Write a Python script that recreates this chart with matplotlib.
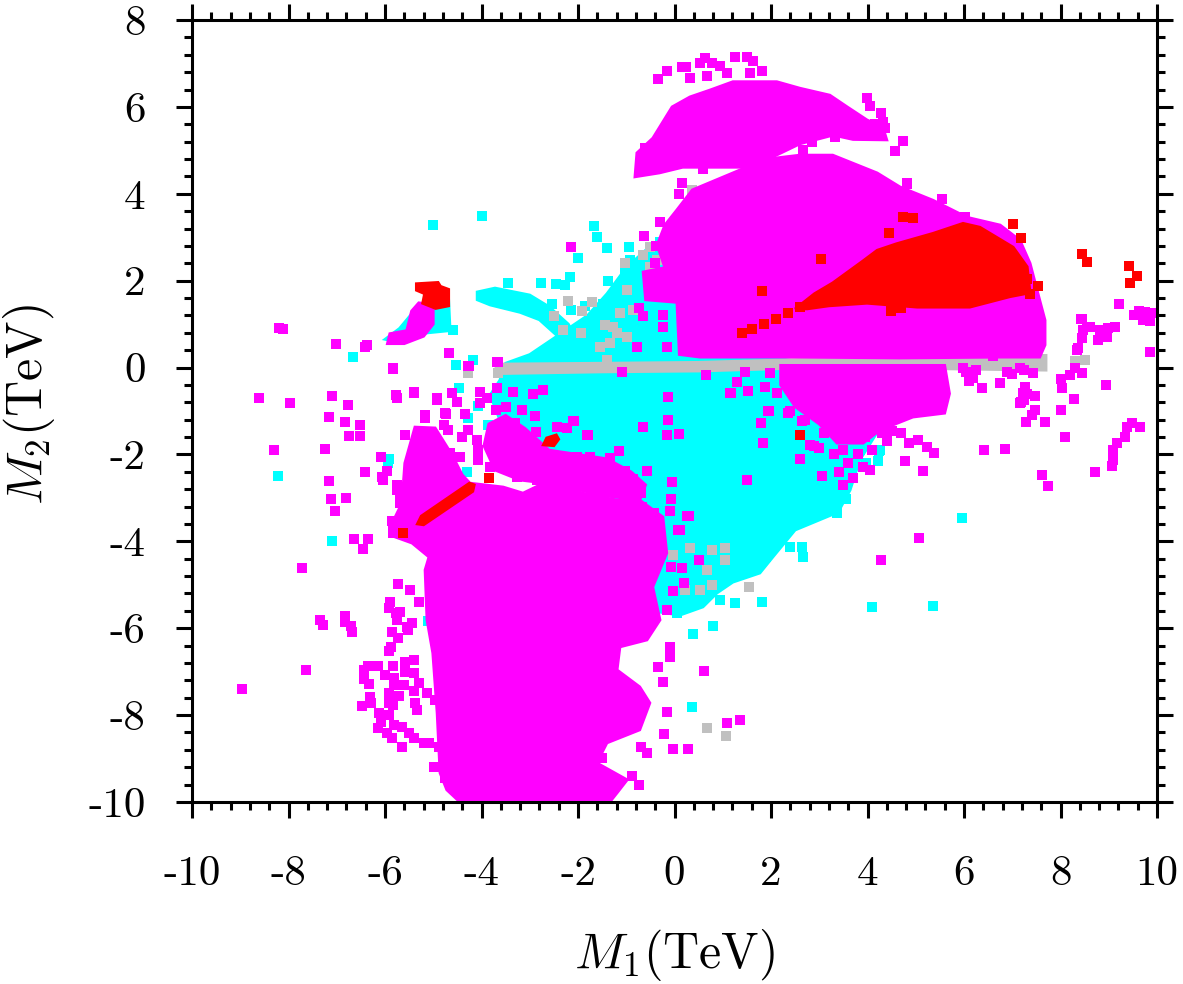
import numpy as np
import matplotlib
matplotlib.use('Agg')
import matplotlib.pyplot as plt
from matplotlib.ticker import MultipleLocator

plt.rcParams['mathtext.fontset'] = 'cm'
plt.rcParams['axes.unicode_minus'] = False

# axis ticks
x_ticks = [-10, -8, -6, -4, -2, 0, 2, 4, 6, 8, 10]
x_tick_labels = ['-10', '-8', '-6', '-4', '-2', '0', '2', '4', '6', '8', '10']
y_ticks = [-10, -8, -6, -4, -2, 0, 2, 4, 6, 8]
y_tick_labels = ['-10', '-8', '-6', '-4', '-2', '0', '2', '4', '6', '8']

# ---- dense regions (outlines of the point clouds, in TeV) ----
cyan_main = [(-3.62, -0.29), (-3.5, 0.1), (-3.0, 0.3), (-2.6, 0.6), (-2.2, 0.9), (-1.8, 1.2),
             (-1.4, 1.7), (-1.0, 2.3), (-0.6, 2.7), (0.3, 2.8), (0.53, 1.56), (1.77, 0.29),
             (2.6, 0.13), (4.26, -0.4), (4.36, -1.21), (3.84, -2.13), (3.64, -2.82), (3.39, -3.33),
             (2.5, -3.74), (2.04, -4.36), (1.77, -4.73), (1.21, -4.94), (0.88, -5.19), (0.59, -5.51),
             (0.11, -5.7), (-0.3, -5.63), (-0.72, -3.51), (-1.96, -2.36), (-2.79, -1.67),
             (-3.62, -1.21), (-3.82, -0.63)]
cyan_band = [(-4.09, 1.74), (-3.72, 1.83), (-3.0, 1.67), (-2.6, 1.4), (-2.2, 1.0), (-2.0, 0.6),
             (-2.3, 0.6), (-2.8, 1.1), (-3.2, 1.27), (-3.82, 1.44), (-4.09, 1.56)]
cyan_left = [(-6.0, 0.65), (-5.7, 0.9), (-5.4, 1.3), (-5.0, 1.5), (-4.68, 1.55), (-4.65, 0.85),
             (-5.1, 0.8), (-5.5, 0.75), (-5.8, 0.6)]

gray_band = [(-3.7, -0.14), (-3.7, 0.08), (-1.5, 0.1), (0.5, 0.12), (3.0, 0.2), (5.0, 0.26),
             (7.7, 0.28), (7.7, -0.06), (5.0, -0.02), (3.0, 0.0), (0.5, -0.08), (-1.5, -0.1)]

mag_top = [(-0.82, 4.39), (-0.78, 4.94), (-0.45, 5.28), (-0.05, 6.0), (0.32, 6.23), (0.74, 6.39),
           (1.21, 6.58), (2.12, 6.58), (2.6, 6.43), (3.22, 6.27), (3.58, 6.0), (3.99, 5.7),
           (4.32, 5.53), (4.4, 5.24), (3.7, 5.25), (3.29, 5.35), (2.6, 5.15), (2.04, 4.85),
           (1.71, 4.65), (1.36, 4.61), (0.88, 4.61), (0.17, 4.61), (-0.31, 4.48)]
mag_mid = [(0.05, 3.63), (0.37, 4.09), (1.36, 4.55), (1.77, 4.78), (2.6, 4.89), (3.28, 4.89),
           (4.2, 4.48), (4.67, 4.16), (5.36, 3.85), (6.06, 3.46), (6.75, 3.28), (7.16, 2.93),
           (7.37, 2.4), (7.57, 1.55), (7.68, 1.09), (7.68, 0.52), (7.57, 0.24), (6.75, 0.24),
           (4.67, 0.22), (2.6, 0.24), (0.53, 0.24), (0.1, 0.3), (0.05, 1.5), (-0.6, 1.56),
           (-0.65, 2.2), (-0.2, 2.3), (-0.36, 2.82), (-0.2, 3.28)]
mag_below = [(2.2, 0.05), (5.6, 0.05), (5.7, -0.6), (5.6, -1.05), (4.94, -1.14), (4.26, -1.44),
             (3.91, -1.74), (3.37, -1.74), (3.0, -1.3), (2.5, -0.9), (2.2, -0.4)]
mag_mix = [(-3.85, -1.3), (-3.5, -1.1), (-3.1, -1.4), (-2.6, -1.9), (-2.0, -2.0), (-1.4, -2.1),
           (-0.9, -2.4), (-0.6, -2.7), (-0.72, -3.05), (-1.54, -2.94), (-2.37, -2.7),
           (-3.2, -2.59), (-3.72, -2.36), (-3.95, -1.8)]
mag_low = [(-5.38, -1.37), (-4.96, -1.39), (-4.61, -2.01), (-4.4, -2.47), (-4.24, -2.66),
           (-3.55, -2.75), (-3.14, -2.89), (-2.58, -2.59), (-1.9, -2.89), (-1.19, -3.05),
           (-0.72, -3.05), (-0.24, -3.44), (-0.16, -4.27), (-0.45, -5.05), (-0.3, -5.81),
           (-0.57, -6.27), (-1.13, -6.43), (-1.19, -6.96), (-0.72, -7.35), (-0.51, -7.72),
           (-0.72, -8.34), (-1.4, -8.64), (-1.61, -9.1), (-0.98, -9.49), (-1.19, -9.79),
           (-1.34, -10.0), (-4.45, -10.0), (-4.72, -9.72), (-4.86, -9.33), (-4.92, -7.95),
           (-5.01, -6.57), (-5.13, -5.81), (-5.17, -4.66), (-5.09, -4.36), (-5.44, -4.04),
           (-5.79, -3.9), (-5.85, -3.58), (-5.65, -3.12), (-5.59, -2.2)]
mag_left = [(-5.95, 0.55), (-5.9, 0.78), (-5.55, 0.85), (-5.45, 1.3), (-5.3, 1.49), (-5.0, 1.45),
            (-5.0, 1.0), (-5.2, 0.72), (-5.6, 0.55)]

red_main = [(2.5, 1.35), (2.9, 1.7), (3.28, 1.95), (3.9, 2.45), (4.2, 2.7), (4.6, 2.85),
            (5.36, 3.09), (5.98, 3.32), (6.33, 3.23), (7.02, 2.77), (7.31, 2.32), (7.37, 1.72),
            (6.95, 1.63), (6.12, 1.39), (5.03, 1.39), (3.99, 1.48), (3.2, 1.42), (2.75, 1.35)]
red_left = [(-5.35, 1.93), (-4.9, 1.96), (-4.85, 1.87), (-4.68, 1.8), (-4.68, 1.42), (-4.95, 1.36),
            (-5.22, 1.48), (-5.18, 1.7), (-5.35, 1.78)]
red_diag = [(-5.33, -3.6), (-5.25, -3.42), (-4.25, -2.66), (-4.15, -2.7), (-4.18, -2.85),
            (-5.2, -3.62)]
red_small = [(-2.72, -1.78), (-2.65, -1.62), (-2.45, -1.55), (-2.4, -1.65), (-2.5, -1.8)]

# ---- isolated points (TeV) ----
cyan_pts = [(-3.99, 3.49), (-5.0, 3.28), (-1.67, 3.26), (-1.61, 3.01), (-1.4, 2.75), (-2.0, 2.52),
            (-2.17, 2.08), (-2.77, 1.95), (-2.46, 1.92), (-2.27, 1.9), (-3.45, 1.95), (-2.54, 1.46),
            (-2.15, 1.32), (-1.86, 1.41), (-1.48, 1.46), (-0.94, 2.77), (-0.92, 2.48), (-1.03, 2.22),
            (-1.38, 1.99), (-1.15, 1.81), (-4.59, 0.87), (-6.66, 0.24), (-4.53, 0.06), (-4.18, 0.17),
            (-4.47, -0.47), (-4.28, -1.16), (-5.94, -2.2), (-4.3, -2.4), (-3.87, -1.32),
            (-4.07, -0.88), (-8.22, -2.5), (-7.1, -3.99), (-5.92, -2.1), (-5.11, -5.83),
            (4.1, -5.51), (5.36, -5.49), (5.96, -3.46), (0.36, -7.81), (0.8, -5.95), (0.38, -6.13),
            (1.81, -5.4), (1.25, -5.42), (0.94, -5.35), (0.53, -5.3), (0.05, -5.65), (0.34, -5.4),
            (3.84, -1.9), (4.24, -1.92), (3.97, -2.2), (4.22, -2.15), (3.64, -2.36), (3.57, -2.63),
            (3.55, -3.03), (3.37, -3.35), (2.66, -4.36), (2.39, -4.13), (2.64, -4.13), (1.9, -4.36),
            (-0.3, 2.9), (0.0, 3.0), (4.26, -1.28), (4.26, -1.9)]

gray_pts = [(-2.21, 1.53), (-2.5, 1.18), (-1.92, 1.3), (-1.71, 1.51), (-2.31, 0.87), (-1.94, 0.8),
            (-1.44, 0.98), (-1.19, 0.8), (-0.98, 0.71), (-1.34, 0.57), (-1.54, 0.47), (-0.65, 2.59),
            (-0.51, 2.32), (-0.24, 2.48), (0.47, 2.63), (0.07, 1.63), (-0.05, 2.06), (-0.98, 1.78),
            (-0.86, 1.32), (-3.66, -0.13), (-4.28, -0.13), (0.53, 2.43), (-0.2, 2.7), (0.32, 2.7),
            (0.37, 4.09), (-0.51, 2.77), (-0.36, 2.48), (-1.03, 2.4), (0.05, 2.08), (-1.27, 0.93),
            (-1.13, 1.25), (-1.4, 0.17), (-0.72, 0.01), (-0.03, -4.31), (0.32, -4.15), (0.78, -4.2),
            (1.05, -4.15), (1.05, -4.43), (0.67, -4.66), (0.53, -5.12), (0.22, -5.12), (0.78, -5.0),
            (1.55, -5.05), (0.67, -8.3), (1.07, -8.48), (8.3, 0.15), (8.5, 0.18)]

mag_pts = [(-0.16, 6.83), (-0.34, 6.64), (0.16, 6.92), (0.24, 6.92), (0.32, 6.67), (0.53, 7.01),
           (0.63, 7.13), (0.78, 7.01), (0.94, 6.94), (1.09, 6.78), (0.67, 6.71), (1.25, 7.15),
           (1.5, 7.15), (1.63, 7.06), (1.56, 6.78), (1.81, 6.83),
           (3.99, 6.2), (4.05, 6.02), (4.28, 5.86), (4.32, 5.65), (4.36, 5.51), (4.16, 5.6),
           (4.74, 5.21), (4.57, 4.98), (4.82, 4.25), (3.91, 5.58), (3.33, 5.31), (2.85, 5.19),
           (2.66, 5.0), (0.16, 4.25), (0.09, 3.99), (0.59, 4.57), (-0.61, 5.06), (-0.24, 5.35),
           (5.54, 3.88), (6.02, 3.46), (4.82, 4.22),
           (8.43, 1.12), (8.55, 0.93), (6.6, 0.27), (9.21, 1.46), (8.45, 1.12), (8.34, 0.4),
           (8.3, 0.0), (8.44, -0.12), (9.85, 0.36),
           (8.47, 0.87), (8.61, 0.93), (8.82, 0.87), (8.98, 0.91), (9.13, 0.93), (8.45, 0.68),
           (8.37, 0.45), (8.78, 0.63), (8.96, 0.7),
           (9.52, 1.2), (9.62, 1.3), (9.75, 1.28), (9.88, 1.25), (9.7, 1.1), (9.85, 1.08),
           (5.98, 0.0), (6.19, -0.24), (6.37, -0.47), (6.75, -0.36), (6.9, -0.1), (7.16, 0.0),
           (7.43, -0.12), (7.27, -0.44), (7.22, -0.59), (7.47, -0.65), (7.18, -0.79), (7.47, -0.98),
           (7.41, -1.09), (7.28, -1.25), (7.68, -1.25), (8.01, -0.27), (8.2, -0.17), (8.03, -0.47),
           (8.28, -0.72), (8.01, -0.98), (8.95, -0.4), (8.09, -1.6), (6.85, -1.88), (6.41, -1.9),
           (5.54, -0.19), (4.77, -2.15), (5.15, -2.38), (4.86, -1.74), (5.05, -1.67), (5.23, -1.82),
           (5.38, -1.97), (7.62, -2.47), (7.74, -2.73), (8.71, -2.4), (9.07, -2.27), (9.09, -2.13),
           (9.09, -1.9), (9.17, -1.74), (9.34, -1.6), (9.38, -1.37), (9.48, -1.28), (9.65, -1.37),
           (7.16, -0.82), (5.07, -3.92), (4.28, -4.43),
           (6.05, -0.1), (6.25, -0.05), (6.1, -0.3), (7.0, -0.15), (7.25, -0.05), (7.3, -0.6),
           (7.25, -0.75),
           (4.3, -1.5), (4.5, -1.45), (4.7, -1.5), (4.4, -1.7), (4.1, -1.9), (3.95, -1.6),
           (3.5, -1.9), (3.8, -2.0), (3.6, -2.2), (3.4, -2.4), (3.9, -2.3), (3.7, -2.55),
           (4.05, -2.35), (3.5, -2.7),
           (2.55, -0.6), (2.8, -0.8), (3.0, -1.0), (2.7, -1.2), (3.1, -1.5), (2.9, -1.8),
           (3.3, -2.0), (2.6, -2.1), (2.4, -1.0),
           (0.61, -6.99), (-0.09, -6.43), (-0.09, -6.66), (-0.34, -6.89), (-0.24, -7.24),
           (-0.16, -7.93), (1.09, -8.18), (1.36, -8.12), (-0.22, -8.44), (-0.04, -8.78),
           (0.28, -8.78), (-0.73, -9.61), (-0.88, -9.4), (-0.57, -8.87), (-0.69, -8.74),
           (-1.5, -8.99),
           (0.5, -4.43), (-0.08, -4.58), (0.16, -4.61), (0.2, -4.96), (-0.03, -5.14), (-0.16, -5.58),
           (0.07, -3.74), (0.26, -3.42), (-0.14, -1.21), (-0.16, -1.55), (0.09, -1.53),
           (1.5, -2.59), (1.83, -1.74), (1.79, -1.28), (1.96, -1.0), (2.35, -1.05), (2.64, -1.23),
           (2.81, -1.78), (3.0, -1.85), (3.06, -2.5), (-0.69, -2.89), (-0.57, -2.38),
           (-1.15, -1.92), (-1.79, -1.55), (-2.1, -1.23), (-2.23, -1.39),
           (-1.09, -0.1), (0.65, -0.17), (1.46, -0.1), (1.29, -0.33), (1.15, -0.59), (1.52, -0.54),
           (1.88, -0.45), (2.38, -0.31), (1.98, -0.13), (2.12, -0.59), (2.5, -0.61), (2.35, -1.05),
           (1.94, -1.0), (-0.14, -0.68), (-0.05, -2.63), (-0.07, -3.03), (-0.09, -3.3),
           (0.11, -3.74), (0.3, -3.42), (-0.67, -3.21), (-0.42, -3.35), (-1.03, -2.38),
           (-0.86, -2.56), (-1.81, -1.55), (-2.08, -1.23), (-2.44, -1.37), (-2.87, -1.48),
           (-2.89, -1.12), (-2.73, -0.52), (-2.93, -0.61), (-3.35, -0.56), (-3.68, -0.47),
           (-3.89, -0.7), (-3.7, -0.98), (-3.49, -0.91), (-3.16, -0.98), (-3.31, -1.28),
           (-3.47, -1.51), (-3.68, -1.51), (-3.14, -1.83), (-2.54, -2.13), (-2.02, -2.06),
           (-1.75, -2.06), (-1.54, -2.29), (-1.34, -2.08), (-1.9, -2.43), (-2.31, -2.29),
           (-2.73, -2.13), (-2.85, -2.59), (-3.26, -2.52), (-3.55, -2.06), (-0.86, -3.05),
           (-0.65, -1.37), (1.17, -0.58),
           (-2.15, 2.77), (-0.63, 3.03), (-0.38, 2.8), (-0.3, 3.35), (-0.4, 2.41), (-0.2, 1.99),
           (-0.74, 1.37), (-0.65, 1.18), (-0.24, 1.21), (-0.24, 0.93), (-0.78, 0.47),
           (-0.16, 0.47), (0.42, 0.45), (0.53, 0.36), (-4.26, 0.04), (-3.66, 0.13),
           (-8.2, 0.91), (-8.11, 0.88), (-7.02, 0.54), (-6.37, 0.52), (-5.83, 0.0), (-8.61, -0.7),
           (-7.97, -0.82), (-7.1, -0.65), (-6.77, -0.86), (-7.16, -1.14), (-6.83, -1.25),
           (-6.52, -1.32), (-6.75, -1.57), (-6.52, -1.57), (-5.77, -0.63), (-5.4, -0.56),
           (-4.92, -0.7), (-5.17, -1.09), (-5.59, -1.55), (-4.76, -1.04), (-8.3, -1.9),
           (-7.24, -1.88), (-6.08, -2.06), (-6.41, -2.4), (-5.96, -2.38), (-6.06, -2.52),
           (-5.75, -2.7), (-7.16, -2.61), (-7.12, -3.03), (-6.81, -3.0), (-7.04, -3.3),
           (-5.69, -3.03), (-5.85, -3.53), (-5.83, -3.72), (-6.64, -3.95), (-6.35, -3.95),
           (-6.46, -4.18), (-7.72, -4.61), (-5.73, -4.98), (-5.48, -5.12), (-5.9, -5.4),
           (-5.3, -5.4), (-5.77, -5.65), (-5.69, -5.63), (-6.83, -5.72), (-7.35, -5.81),
           (-7.28, -5.93), (-6.7, -5.95), (-5.54, -5.97), (-5.44, -5.88), (-5.85, -6.09),
           (-5.73, -6.23), (-5.88, -6.43), (-5.92, -6.52), (-7.64, -6.96), (-8.96, -7.4),
           (-6.83, -5.86), (-6.68, -6.09), (-5.92, -5.54), (-5.75, -5.81), (-5.52, -6.04),
           (-6.35, -6.87), (-6.44, -6.96), (-6.15, -6.87), (-5.83, -6.87), (-6.0, -7.08),
           (-5.81, -7.15), (-5.59, -6.78), (-5.4, -6.73), (-5.59, -7.01), (-5.4, -7.03),
           (-5.3, -7.26), (-5.61, -7.31), (-6.44, -7.17), (-6.33, -7.29), (-5.81, -7.31),
           (-5.92, -7.49), (-5.71, -7.56), (-5.4, -7.45), (-5.13, -7.49), (-6.31, -7.58),
           (-6.48, -7.79), (-6.29, -7.72), (-5.92, -7.72), (-5.83, -7.77), (-5.38, -7.72),
           (-5.34, -7.88), (-4.96, -7.65), (-6.12, -7.95), (-5.92, -8.0), (-6.08, -8.16),
           (-6.15, -8.3), (-5.81, -8.23), (-5.65, -8.28), (-5.96, -8.42), (-5.85, -8.53),
           (-5.5, -8.42), (-5.4, -8.53), (-5.65, -8.74), (-5.19, -8.64), (-5.09, -8.64),
           (-4.88, -8.74), (-4.98, -9.19), (-4.76, -9.22), (-4.76, -9.45),
           (-4.78, -1.32), (-4.88, -1.9),
           (-6.41, 0.47), (-5.83, -0.03), (-4.67, 0.33), (-4.28, 0.04), (-5.4, -0.59),
           (-5.75, -0.7), (-4.92, -0.75), (-4.61, -0.59), (-4.51, -0.79), (-4.34, -1.07),
           (-4.74, -1.07), (-5.17, -1.16), (-4.69, -1.44), (-4.4, -1.6), (-4.28, -1.44),
           (-4.03, -0.56), (-3.68, 0.13), (-4.03, -0.82), (-4.09, -1.67), (-4.07, -1.9),
           (-4.65, -1.97), (-4.45, -2.06), (-4.07, -2.13), (-3.82, -2.29), (-3.55, -2.2),
           (-4.3, -2.75), (-6.04, -2.59), (-5.75, -2.82), (-5.69, -3.12), (-5.83, -3.81)]

red_pts = [(1.4, 0.8), (1.6, 0.88), (1.85, 1.0), (2.1, 1.12), (2.35, 1.26), (2.6, 1.4),
           (8.45, 2.61), (8.55, 2.43), (9.42, 2.34), (9.58, 2.11), (9.44, 1.95), (7.31, 2.04),
           (7.53, 1.88), (7.37, 1.69), (4.49, 1.3), (4.7, 1.37), (2.6, -1.55), (4.74, 3.46),
           (4.94, 3.44), (7.02, 3.3), (7.18, 2.98), (4.45, 3.09), (3.04, 2.5), (1.81, 1.76),
           (-5.63, -3.81), (-3.84, -2.54)]

CYAN = '#00ffff'
GRAY = '#c0c0c0'
MAGENTA = '#ff00ff'
RED = '#ff0000'

fig = plt.figure(figsize=(11.83, 9.84), dpi=100)
ax = fig.add_axes([192 / 1183, 1 - 802 / 984, 965 / 1183, 782 / 984])


def blob(poly, color, z):
    xs, ys = zip(*poly)
    ax.fill(xs, ys, color=color, lw=2, zorder=z)


def dots(pts, color, z):
    xs, ys = zip(*pts)
    ax.scatter(xs, ys, s=50, marker='s', c=color, linewidths=0, zorder=z)


for p in [cyan_main, cyan_band, cyan_left]:
    blob(p, CYAN, 1)
dots(cyan_pts, CYAN, 1.5)

blob(gray_band, GRAY, 2)
dots(gray_pts, GRAY, 2.5)

for p in [mag_top, mag_mid, mag_below, mag_mix, mag_low, mag_left]:
    blob(p, MAGENTA, 3)
dots(mag_pts, MAGENTA, 3.5)

for p in [red_main, red_left, red_diag, red_small]:
    blob(p, RED, 4)
dots(red_pts, RED, 4.5)

ax.set_xlim(-10, 10)
ax.set_ylim(-10, 8)
ax.set_xticks(x_ticks)
ax.set_xticklabels(x_tick_labels, fontfamily='cmr10')
ax.set_yticks(y_ticks)
ax.set_yticklabels(y_tick_labels, fontfamily='cmr10')
ax.xaxis.set_minor_locator(MultipleLocator(0.4))
ax.yaxis.set_minor_locator(MultipleLocator(0.4))
ax.tick_params(which='both', direction='out', top=True, right=True, width=2.2, labelsize=31)
ax.tick_params(which='major', length=11.5)
ax.tick_params(which='minor', length=5.8)
ax.tick_params(axis='x', pad=27)
ax.tick_params(axis='y', pad=22)
for s in ax.spines.values():
    s.set_linewidth(2.2)
    s.set_zorder(10)

ax.set_xlabel(r'$M_1(\mathrm{TeV})$', fontsize=36)
ax.xaxis.set_label_coords(0.5, -0.16)
ax.set_ylabel(r'$M_2(\mathrm{TeV})$', fontsize=36)
ax.yaxis.set_label_coords(-0.14, 0.508)

fig.savefig('out.png', dpi=100)
